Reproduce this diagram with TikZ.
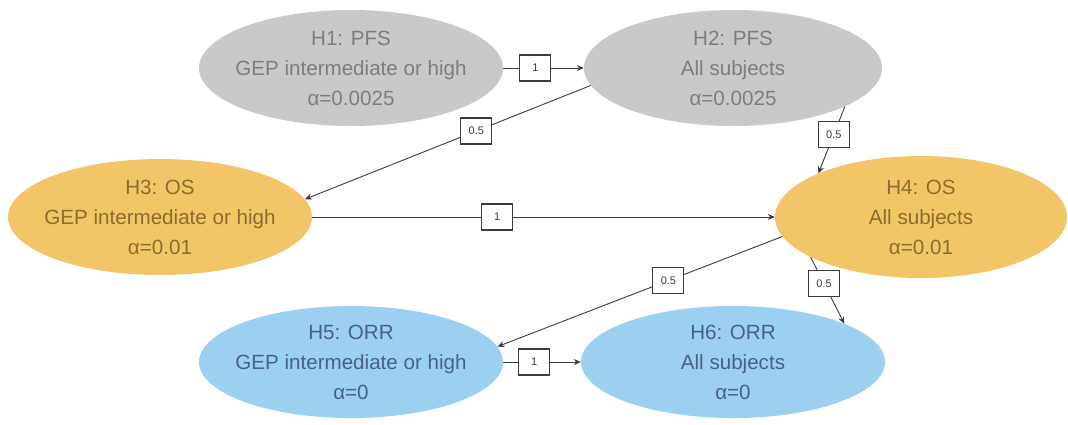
\documentclass[tikz,border=0pt]{standalone}
\usepackage{fontspec}
\setmainfont{Liberation Sans}
\usetikzlibrary{shapes.geometric,arrows.meta}
\definecolor{grayfill}{RGB}{201,201,201}
\definecolor{graytext}{RGB}{125,125,125}
\definecolor{orangefill}{RGB}{242,197,102}
\definecolor{orangetext}{RGB}{140,108,45}
\definecolor{bluefill}{RGB}{155,208,240}
\definecolor{bluetext}{RGB}{70,100,130}
\definecolor{linecol}{RGB}{60,60,60}
\begin{document}
\begin{tikzpicture}[x=1pt,y=-1pt,
  hyp/.style={ellipse, minimum width=304pt, minimum height=116pt, inner sep=0pt, draw=none},
  htext/.style={align=center, font=\fontsize{20.6}{30}\selectfont, inner sep=0pt},
  wlab/.style={draw=linecol, fill=white, line width=1.1pt, minimum width=31pt, minimum height=26pt, inner sep=1pt, font=\fontsize{11}{13}\selectfont, text=linecol},
  conn/.style={draw=linecol, line width=0.9pt, -{Stealth[length=7pt,width=6pt]}}]
\fill[white] (0,0) rectangle (1068,424);
\useasboundingbox (0,0) rectangle (1068,424);

\node[hyp, fill=grayfill] (H1) at (351,68) {};
\node[hyp, fill=grayfill, minimum width=298pt] (H2) at (733,68) {};
\node[hyp, fill=orangefill] (H3) at (160,217) {};
\node[hyp, fill=orangefill, minimum width=292pt, minimum height=122pt] (H4) at (921,217) {};
\node[hyp, fill=bluefill, minimum height=112pt] (H5) at (351,362) {};
\node[hyp, fill=bluefill, minimum height=112pt] (H6) at (733,362) {};

\node[htext, text=graytext] (T1) at (H1.center) {H1: PFS\\GEP intermediate or high\\α=0.0025};
\node[htext, text=graytext] (T2) at (H2.center) {H2: PFS\\All subjects\\α=0.0025};
\node[htext, text=orangetext] (T3) at (H3.center) {H3: OS\\GEP intermediate or high\\α=0.01};
\node[htext, text=orangetext] (T4) at (H4.center) {H4: OS\\All subjects\\α=0.01};
\node[htext, text=bluetext] (T5) at (H5.center) {H5: ORR\\GEP intermediate or high\\α=0};
\node[htext, text=bluetext] (T6) at (H6.center) {H6: ORR\\All subjects\\α=0};

\draw[conn] (H1.east) -- node[wlab, pos=0.4] (L12) {1} (H2.west);
\draw[conn] (H2.187) -- node[wlab, pos=0.4] (L23) {0.5} (H3.7);
\draw[conn] (H2.-19) -- node[wlab, pos=0.42] (L24) {0.5} (H4.157);
\draw[conn] (H3.east) -- node[wlab, pos=0.4] (L34) {1} (H4.west);
\draw[conn] (H4.188) -- node[wlab, pos=0.4] (L45) {0.5} (H5.6);
\draw[conn] (H4.200) -- node[wlab, pos=0.4] (L46) {0.5} (H6.19);
\draw[conn] (H5.east) -- node[wlab, pos=0.4] (L56) {1} (H6.west);
\end{tikzpicture}
\end{document}
